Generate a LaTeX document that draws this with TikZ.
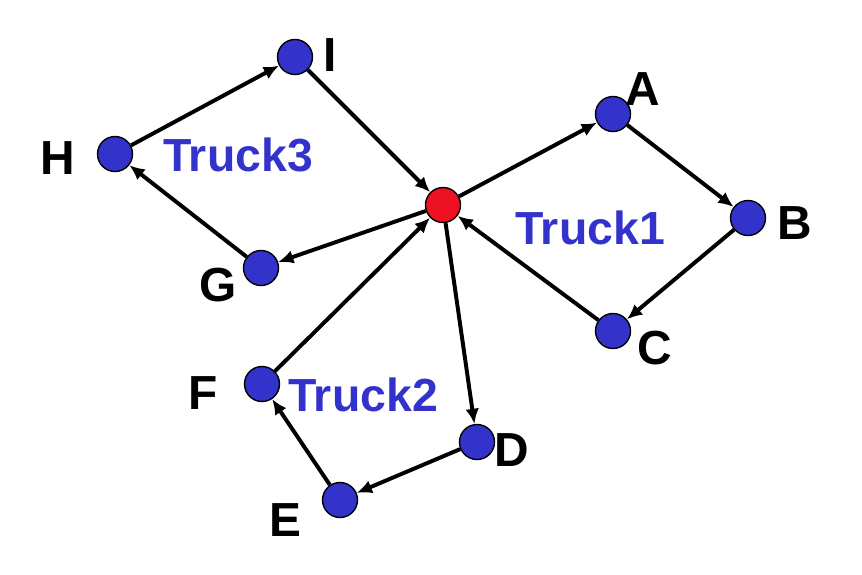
\documentclass[tikz,border=0pt]{standalone}
\usepackage{fontspec}
\setmainfont{Liberation Sans}
\usetikzlibrary{arrows.meta,positioning}
\definecolor{custblue}{RGB}{51,51,204}
\definecolor{depotred}{RGB}{238,17,34}
\begin{document}
\begin{tikzpicture}[x=0.025cm, y=-0.025cm,
    cust/.style={draw, circle, fill=custblue, line width=1pt, minimum size=0.875cm, inner sep=0pt},
    depot/.style={cust, fill=depotred},
    lbl/.style={font=\fontsize{34}{36}\selectfont\bfseries, inner sep=0pt},
    truck/.style={lbl, text=custblue, font=\fontsize{33}{36}\selectfont\bfseries},
    route/.style={line width=2.8pt, -{Latex[length=0.38cm, width=0.34cm]}}]
\useasboundingbox (0,0) rectangle (862,574);
\node[depot] (o) at (443,205) {};
\node[cust] (a) at (613,114) {};
\node[cust] (b) at (748,218) {};
\node[cust] (c) at (613,331) {};
\node[cust] (d) at (477,442) {};
\node[cust] (e) at (340,500) {};
\node[cust] (f) at (262,384) {};
\node[cust] (g) at (261,268) {};
\node[cust] (h) at (115,154) {};
\node[cust] (i) at (295,57) {};
\node[lbl] (la) at (643,89) {A};
\node[lbl] (lb) at (795,223) {B};
\node[lbl] (lc) at (655,348) {C};
\node[lbl] (ld) at (512,450) {D};
\node[lbl] (le) at (285,520) {E};
\node[lbl] (lf) at (203,393) {F};
\node[lbl] (lg) at (218,285) {G};
\node[lbl] (lh) at (58,158) {H};
\node[lbl] (li) at (330,55) {I};
\node[truck] (t1) at (590,228) {Truck1};
\node[truck] (t2) at (363,395) {Truck2};
\node[truck] (t3) at (238,155) {Truck3};
\foreach \u/\v in {o/a,a/b,b/c,c/o} \draw[route] (\u) -- (\v);
\foreach \u/\v in {o/d,d/e,e/f,f/o} \draw[route] (\u) -- (\v);
\foreach \u/\v in {i/o,o/g,g/h,h/i} \draw[route] (\u) -- (\v);
\end{tikzpicture}
\end{document}
